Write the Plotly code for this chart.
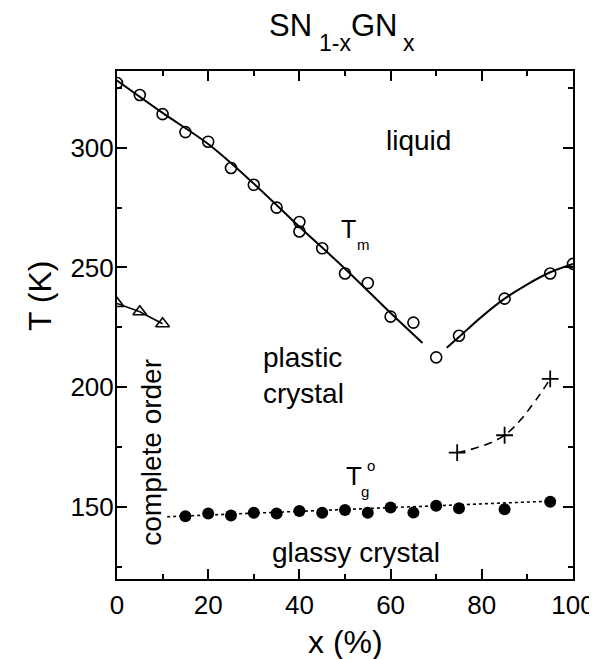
import plotly.graph_objects as go

# Melting temperature Tm (open circles)
tm_x = [0, 5, 10, 15, 20, 25, 30, 35, 40, 40, 45, 50, 55, 60, 65, 70, 75, 85, 95, 100]
tm_T = [327, 322, 314, 306.5, 302.5, 291.5, 284.5, 275, 269, 265, 258, 247.5, 243.5, 229.5, 227, 212.5, 221.5, 237, 247.5, 251.5]

# Fitted Tm curves (solid lines)
fitL_x = [0, 10, 20, 30, 40, 50, 60, 67]
fitL_T = [328, 314.5, 301.5, 285, 267, 249.5, 231, 218.5]
fitR_x = [72.3, 75, 80, 85, 90, 95, 100]
fitR_T = [216.5, 221, 229.5, 237, 243, 248, 251.5]

# Complete-order transition (open triangles)
tri_x = [0, 5, 10]
tri_T = [235, 231.5, 226.5]

# Crosses (dashed)
cr_x = [74.6, 85, 95]
cr_T = [172.7, 180, 203.5]

# Glass transition Tg (filled circles)
tg_x = [15, 20, 25, 30, 35, 40, 45, 50, 55, 60, 65, 70, 75, 85, 95]
tg_T = [146.2, 147.3, 146.5, 147.6, 147.3, 148.4, 147.6, 148.8, 147.6, 149.8, 147.7, 150.6, 149.5, 149.1, 152.2]
tgfit_x = [11, 95]
tgfit_T = [146, 152.5]

FONT = "Liberation Sans, Arial, sans-serif"

# The page body adds an 8 px offset, so the figure is 8 px smaller and shifted.
OFF = 8
W, H = 597 - OFF, 659 - OFF
L, R, T, B = 117 - OFF, 24, 71 - OFF, 80
pw, ph = W - L - R, H - T - B


def paper(px, py):
    """page pixel -> paper coordinates"""
    return (px - OFF - L) / pw, (H - B - (py - OFF)) / ph


fig = go.Figure()

fig.add_trace(go.Scatter(x=fitL_x, y=fitL_T, mode="lines", line=dict(color="black", width=2, shape="spline"), showlegend=False))
fig.add_trace(go.Scatter(x=fitR_x, y=fitR_T, mode="lines", line=dict(color="black", width=2, shape="spline"), showlegend=False))
fig.add_trace(go.Scatter(x=tm_x, y=tm_T, mode="markers",
                         marker=dict(symbol="circle-open", size=11, color="black", line=dict(width=1.6)), showlegend=False))
fig.add_trace(go.Scatter(x=tri_x, y=tri_T, mode="lines+markers", line=dict(color="black", width=1.6),
                         marker=dict(symbol="triangle-up-open", size=12, color="black", line=dict(width=1.6)), showlegend=False))
fig.add_trace(go.Scatter(x=cr_x, y=cr_T, mode="lines+markers", line=dict(color="black", width=1.6, dash="8px,6px", shape="spline"),
                         marker=dict(symbol="cross-thin-open", size=12, color="black", line=dict(width=1.8)), showlegend=False))
fig.add_trace(go.Scatter(x=tgfit_x, y=tgfit_T, mode="lines", line=dict(color="black", width=1.6, dash="3px,3px"), showlegend=False))
fig.add_trace(go.Scatter(x=tg_x, y=tg_T, mode="markers",
                         marker=dict(symbol="circle", size=12, color="black"), showlegend=False))

ann_font = dict(family=FONT, size=28, color="black")


def f(size):
    return dict(family=FONT, size=size, color="black")


anns = [
    dict(x=66.1, y=303.2, text="liquid", font=ann_font, xanchor="center", yanchor="middle"),
    dict(x=40.8, y=205, text="plastic<br>crystal", font=ann_font, align="left", xanchor="center", yanchor="middle"),
    dict(x=52.5, y=131, text="glassy crystal", font=ann_font, xanchor="center", yanchor="middle"),
    dict(x=7.4, y=173, text="complete order", textangle=-90, font=ann_font, xanchor="center", yanchor="middle"),
    dict(x=48.8, y=265.9, text="T", font=f(25), xanchor="left", yanchor="middle", borderpad=0),
    dict(x=52.5, y=259.5, text="m", font=f(15), xanchor="left", yanchor="middle", borderpad=0),
    dict(x=50.0, y=163.0, text="T", font=f(26), xanchor="left", yanchor="middle", borderpad=0),
    dict(x=53.3, y=156.5, text="g", font=f(15), xanchor="left", yanchor="middle", borderpad=0),
    dict(x=54.6, y=167.5, text="o", font=f(15), xanchor="left", yanchor="middle", borderpad=0),
]

# axis titles in page pixels
page_texts = [
    (345, 642, "x (%)", 32, 0),
    (40, 296, "T (K)", 32, -90),
]
for px, py, txt, size, ang in page_texts:
    x, y = paper(px, py)
    anns.append(dict(x=x, y=y, xref="paper", yref="paper", text=txt, textangle=ang,
                     font=f(size), xanchor="center", yanchor="middle"))

# title pieces: (left x, baseline y, text, size)
title_parts = [
    (268, 36, "SN", 31),
    (318, 51, "1-x", 23),
    (350, 36, "GN", 31),
    (402, 51, "x", 23),
]
for px, base, txt, size in title_parts:
    cy = base - 0.3465 * size
    x, y = paper(px, cy)
    anns.append(dict(x=x, y=y, xref="paper", yref="paper", text=txt, font=f(size),
                     xanchor="left", yanchor="middle", borderpad=0))

for a in anns:
    a["showarrow"] = False

axis_common = dict(showline=True, linewidth=2, linecolor="black", mirror="ticks", ticks="inside", ticklen=10,
                   tickwidth=2, tickcolor="black", showgrid=False, zeroline=False, automargin=False,
                   tickfont=dict(family=FONT, size=26, color="black"))

fig.update_layout(
    width=W, height=H,
    margin=dict(l=L, r=R, t=T, b=B, autoexpand=False),
    plot_bgcolor="white", paper_bgcolor="white",
    xaxis=dict(range=[0, 100], dtick=20, tick0=0,
               minor=dict(dtick=10, ticklen=5, tickwidth=2, ticks="inside", tickcolor="black"),
               ticklabelstandoff=2, **axis_common),
    yaxis=dict(range=[120, 332], dtick=50, tick0=0,
               minor=dict(dtick=25, ticklen=5, tickwidth=2, ticks="inside", tickcolor="black"),
               ticklabelstandoff=-4, **axis_common),
    annotations=anns,
)

fig.write_html("out.html")
